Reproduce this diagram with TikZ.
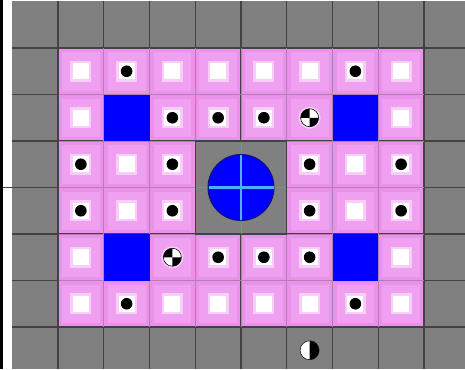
\documentclass[tikz,border=0pt]{standalone}
\definecolor{cellgray}{RGB}{128,128,128}
\definecolor{gridline}{RGB}{66,66,66}
\definecolor{pinkout}{RGB}{234,146,234}
\definecolor{pinkin}{RGB}{240,160,240}
\definecolor{pinkhalo}{RGB}{248,206,248}
\definecolor{pinkline}{RGB}{176,128,176}
\definecolor{solidblue}{RGB}{0,0,255}
\definecolor{rimblue}{RGB}{20,20,120}
\definecolor{crossblue}{RGB}{80,175,255}
\definecolor{crossfaint}{RGB}{120,150,120}
\newcommand{\cellxy}[2]{%
  \pgfmathsetmacro\xa{12.25+45.75*#1}%
  \pgfmathsetmacro\ya{1.5+46.5*#2}%
  \pgfmathsetmacro\xc{\xa+22.875}%
  \pgfmathsetmacro\yc{\ya+23.25}}
\tikzset{
  gridpen/.style={draw=gridline,line width=1.1pt},
  pinkpen/.style={draw=pinkline,line width=0.8pt},
  squarefill/.style={fill=white},
  dotfill/.style={fill=black}
}
\begin{document}
\begin{tikzpicture}[x=1pt,y=-1pt]
\useasboundingbox (0,0) rectangle (465,369);
\fill[white] (0,0) rectangle (465,369);
\fill[black] (0,0) rectangle (2.6,369);
\fill[cellgray] (12.25,1.5) rectangle (465,369);
% dark grid over everything
\foreach \k in {1,...,9} {
  \pgfmathsetmacro\gx{12.25+45.75*\k}
  \draw[gridpen] (\gx,1.5) -- (\gx,369);
}
\foreach \j in {1,...,7} {
  \pgfmathsetmacro\gy{1.5+46.5*\j}
  \draw[gridpen] (12.25,\gy) -- (465,\gy);
}
\draw[gridline,line width=0.8pt] (2.6,187.5) -- (12.25,187.5);
% pink cells (all of the 8x6 block)
\foreach \i in {1,...,8} {
  \foreach \j in {1,...,6} {
    \cellxy{\i}{\j}
    \fill[pinkout] (\xa+0.55,\ya+0.55) rectangle (\xa+45.2,\ya+45.95);
    \fill[pinkin] (\xa+4,\ya+4) rectangle (\xa+41.75,\ya+42.5);
  }
}
% lighter lines between pink cells
\foreach \k in {2,...,8} {
  \pgfmathsetmacro\gx{12.25+45.75*\k}
  \draw[pinkpen] (\gx,48.5) -- (\gx,326.5);
}
\foreach \j in {2,...,6} {
  \pgfmathsetmacro\gy{1.5+46.5*\j}
  \draw[pinkpen] (58.5,\gy) -- (423.5,\gy);
}
% white squares
\foreach \i/\j in {1/1,3/1,4/1,5/1,6/1,8/1, 1/2,8/2, 2/3,7/3, 2/4,7/4, 1/5,8/5, 1/6,3/6,4/6,5/6,6/6,8/6} {
  \cellxy{\i}{\j}
  \fill[pinkhalo] (\xc-10.5,\yc-10.5) rectangle (\xc+10.5,\yc+10.5);
  \fill[squarefill] (\xc-8,\yc-8) rectangle (\xc+8,\yc+8);
}
% white squares with black dots
\foreach \i/\j in {2/1,7/1, 3/2,4/2,5/2, 1/3,3/3,6/3,8/3, 1/4,3/4,6/4,8/4, 4/5,5/5,6/5, 2/6,7/6} {
  \cellxy{\i}{\j}
  \fill[pinkhalo] (\xc-10.5,\yc-10.5) rectangle (\xc+10.5,\yc+10.5);
  \fill[squarefill] (\xc-8,\yc-8) rectangle (\xc+8,\yc+8);
  \fill[dotfill] (\xc,\yc) circle (5.8);
}
% checkered balls (black top-left and bottom-right quarters)
\foreach \i/\j in {6/2,3/5} {
  \cellxy{\i}{\j}
  \fill[pinkhalo] (\xc,\yc) circle (11);
  \fill[white] (\xc,\yc) circle (9);
  \fill[black] (\xc,\yc) -- (\xc-9,\yc) arc[start angle=180,end angle=270,radius=9] -- cycle;
  \fill[black] (\xc,\yc) -- (\xc+9,\yc) arc[start angle=0,end angle=90,radius=9] -- cycle;
  \draw[black,line width=0.6pt] (\xc,\yc) circle (9);
}
% blue cells
\foreach \i/\j in {2/2,7/2,2/5,7/5} {
  \cellxy{\i}{\j}
  \fill[solidblue] (\xa,\ya) rectangle (\xa+45.75,\ya+46.5);
}
% centre grey square
\fill[cellgray] (195.25,141) rectangle (286.75,234);
\draw[gridpen] (195.25,141) rectangle (286.75,234);
\fill[crossfaint] (195.8,186.9) rectangle (286.2,188.1);
\fill[crossfaint] (240.6,141.5) rectangle (241.4,233.5);
\fill[solidblue] (241,187.5) circle (33);
\draw[rimblue,line width=1pt] (241,187.5) circle (33);
\fill[crossblue] (208.5,186.4) rectangle (273.5,188.6);
\fill[crossblue] (240.3,155) rectangle (241.7,220);
% half white / half black disc
\cellxy{6}{7}
\fill[white] (\xc,\yc) circle (9.5);
\fill[black] (\xc,\yc-9.5) arc[start angle=-90,end angle=90,radius=9.5] -- cycle;
\draw[black,line width=0.5pt] (\xc,\yc) circle (9.5);
\end{tikzpicture}
\end{document}
